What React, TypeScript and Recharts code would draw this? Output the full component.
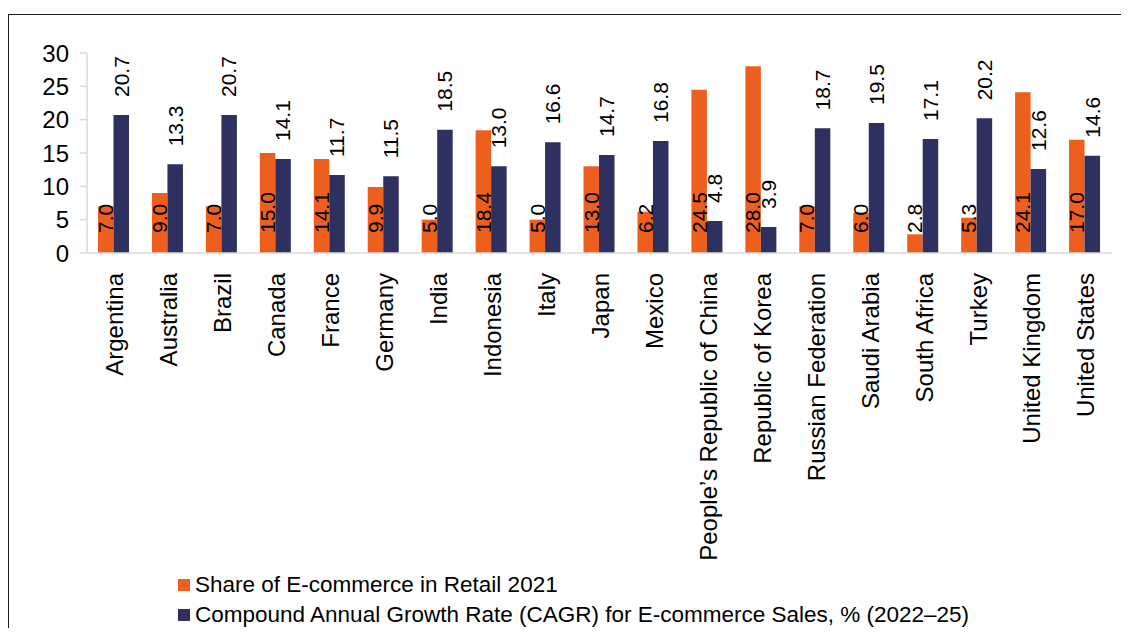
import React from 'react';
import { BarChart, Bar, XAxis, YAxis, Legend, LabelList } from 'recharts';

const countries = [
  'Argentina',
  'Australia',
  'Brazil',
  'Canada',
  'France',
  'Germany',
  'India',
  'Indonesia',
  'Italy',
  'Japan',
  'Mexico',
  'People’s Republic of China',
  'Republic of Korea',
  'Russian Federation',
  'Saudi Arabia',
  'South Africa',
  'Turkey',
  'United Kingdom',
  'United States',
];

const shareRetail2021 = [7.0, 9.0, 7.0, 15.0, 14.1, 9.9, 5.0, 18.4, 5.0, 13.0, 6.2, 24.5, 28.0, 7.0, 6.0, 2.8, 5.3, 24.1, 17.0];
const cagr2225 = [20.7, 13.3, 20.7, 14.1, 11.7, 11.5, 18.5, 13.0, 16.6, 14.7, 16.8, 4.8, 3.9, 18.7, 19.5, 17.1, 20.2, 12.6, 14.6];

const yTicks = [0, 5, 10, 15, 20, 25, 30];

const SHARE_NAME = 'Share of E-commerce in Retail 2021';
const CAGR_NAME = 'Compound Annual Growth Rate (CAGR) for E-commerce Sales, % (2022–25)';

const ORANGE = '#EC5F1D';
const NAVY = '#2E3160';
const FONT = '"Liberation Sans", Arial, sans-serif';

const data = countries.map((country, i) => ({
  country,
  share: shareRetail2021[i],
  cagr: cagr2225[i],
}));

const CountryTick = (props: any) => {
  const { x, y, payload } = props;
  return (
    <g transform={`translate(${x + 1},${y + 12})`}>
      <text transform="rotate(-90)" textAnchor="end" dy="0.35em" fontSize={24} fill="#000" fontFamily={FONT}>
        {payload.value}
      </text>
    </g>
  );
};

// orange labels sit just above the bar base
const BaseLabel = (props: any) => {
  const { x, y, width, height, value } = props;
  const cx = x + width / 2;
  const cy = y + height - 20;
  return (
    <text transform={`rotate(-90, ${cx}, ${cy})`} x={cx} y={cy} dy="0.35em" textAnchor="start" fontSize={21} fill="#000" fontFamily={FONT}>
      {Number(value).toFixed(1)}
    </text>
  );
};

// navy labels sit above the bar top
const TopLabel = (props: any) => {
  const { x, y, width, value } = props;
  const cx = x + width / 2;
  const cy = y - 18;
  return (
    <text transform={`rotate(-90, ${cx}, ${cy})`} x={cx} y={cy} dy="0.35em" textAnchor="start" fontSize={21} fill="#000" fontFamily={FONT}>
      {Number(value).toFixed(1)}
    </text>
  );
};

const LegendBox = () => (
  <div style={{ fontFamily: FONT, fontSize: 22.5, color: '#000', lineHeight: '30px' }}>
    {[
      { name: SHARE_NAME, color: ORANGE },
      { name: CAGR_NAME, color: NAVY },
    ].map((item) => (
      <div key={item.name} style={{ display: 'flex', alignItems: 'center', whiteSpace: 'nowrap' }}>
        <span style={{ display: 'inline-block', width: 12, height: 12, background: item.color, marginRight: 5 }} />
        <span>{item.name}</span>
      </div>
    ))}
  </div>
);

export default function App() {
  return (
    <div style={{ width: 1121, height: 620, overflow: 'hidden', position: 'relative' }}>
      <div
        style={{
          position: 'absolute',
          left: 0,
          top: 6,
          width: 1200,
          height: 700,
          borderTop: '1.5px solid #1a1a1a',
          borderLeft: '1.5px solid #1a1a1a',
        }}
      />
      <BarChart
        width={1121}
        height={620}
        data={data}
        margin={{ top: 45, right: 17, left: 0, bottom: 55 }}
        barGap={0}
        barSize={15.5}
        style={{ position: 'absolute', left: 0, top: 0 }}
      >
        <XAxis
          dataKey="country"
          interval={0}
          height={320}
          tickLine={false}
          axisLine={{ stroke: '#d9d9d9', strokeWidth: 1.5 }}
          tick={<CountryTick />}
        />
        <YAxis
          width={79}
          domain={[0, 30]}
          ticks={yTicks}
          tickSize={7}
          tickMargin={11}
          axisLine={{ stroke: '#d9d9d9', strokeWidth: 1.5 }}
          tickLine={{ stroke: '#d9d9d9', strokeWidth: 1.5 }}
          tick={{ fontSize: 24, fill: '#000', fontFamily: FONT }}
        />
        <Legend
          layout="vertical"
          align="center"
          verticalAlign="middle"
          content={<LegendBox />}
          wrapperStyle={{ top: 562, left: 170, width: 900 }}
        />
        <Bar dataKey="share" name={SHARE_NAME} fill={ORANGE} isAnimationActive={false}>
          <LabelList dataKey="share" content={<BaseLabel />} />
        </Bar>
        <Bar dataKey="cagr" name={CAGR_NAME} fill={NAVY} isAnimationActive={false}>
          <LabelList dataKey="cagr" content={<TopLabel />} />
        </Bar>
      </BarChart>
    </div>
  );
}
